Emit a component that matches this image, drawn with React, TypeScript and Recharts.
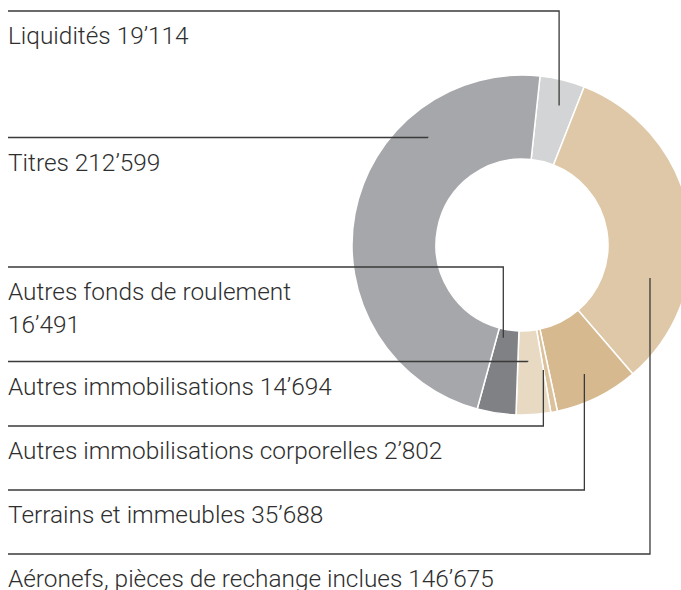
import { Cell, Pie, PieChart } from "recharts";

const categories = [
  "Liquidités",
  "Aéronefs, pièces de rechange inclues",
  "Terrains et immeubles",
  "Autres immobilisations corporelles",
  "Autres immobilisations",
  "Autres fonds de roulement",
  "Titres",
];
const values = [19114, 146675, 35688, 2802, 14694, 16491, 212599];
const colors = ["#d3d4d6", "#dfc8a7", "#d6b98f", "#dcc29c", "#e8d9c3", "#808185", "#a6a7aa"];

// label layout: row of the horizontal rule, and where the leader ends in the ring
// (angle clockwise from 12 o'clock, radius in px from the centre)
const labelRows = [11, 554, 490, 426, 361.5, 267, 137.5];
const anchorAngles = [14.9, 104.5, 154.2, 170.3, 177.2, 191.4, 318.8];
const anchorRadii = [144.3, 132.2, 143.3, 126.8, 116.8, 94.6, 142.8];
const wrapAt = [0, 0, 0, 0, 0, 1, 0]; // 1 = value goes on its own line

const fmt = (n: number) => String(n).replace(/\B(?=(\d{3})+(?!\d))/g, "’");

const data = categories.map((name, i) => ({ name, value: values[i] }));

const LEFT = 8;

function LeaderLabel(props: any) {
  const { cx, cy, index } = props;
  const i = index as number;
  const a = (anchorAngles[i] * Math.PI) / 180;
  const ax = cx + anchorRadii[i] * Math.sin(a);
  const ay = cy - anchorRadii[i] * Math.cos(a);
  const row = labelRows[i];
  const textY = row + 33;
  const lines =
    wrapAt[i] === 1 ? [categories[i], fmt(values[i])] : [`${categories[i]} ${fmt(values[i])}`];
  return (
    <g>
      <polyline
        points={`${LEFT},${row} ${ax},${row} ${ax},${ay}`}
        fill="none"
        stroke="#3a3a3a"
        strokeWidth={1.3}
      />
      <text
        x={LEFT}
        y={textY}
        fill="#2e2e2e"
        fontFamily="Roboto, 'Liberation Sans', sans-serif"
        fontWeight={300}
        fontSize={24.4}
      >
        {lines.map((l, k) => (
          <tspan key={k} x={LEFT} dy={k === 0 ? 0 : 33}>
            {l}
          </tspan>
        ))}
      </text>
    </g>
  );
}

export default function App() {
  return (
    <div style={{ position: "absolute", left: 0, top: 0, width: 681, height: 590, background: "#fff" }}>
      <PieChart width={681} height={590} margin={{ top: 0, right: 0, bottom: 0, left: 0 }}>
        <Pie
          data={data}
          dataKey="value"
          nameKey="name"
          cx={522}
          cy={245}
          innerRadius={86}
          outerRadius={170}
          startAngle={83.9}
          endAngle={-276.1}
          stroke="#fff"
          strokeWidth={1.5}
          label={LeaderLabel}
          labelLine={false}
          isAnimationActive={false}
        >
          {data.map((d, i) => (
            <Cell key={d.name} fill={colors[i]} />
          ))}
        </Pie>
      </PieChart>
    </div>
  );
}
